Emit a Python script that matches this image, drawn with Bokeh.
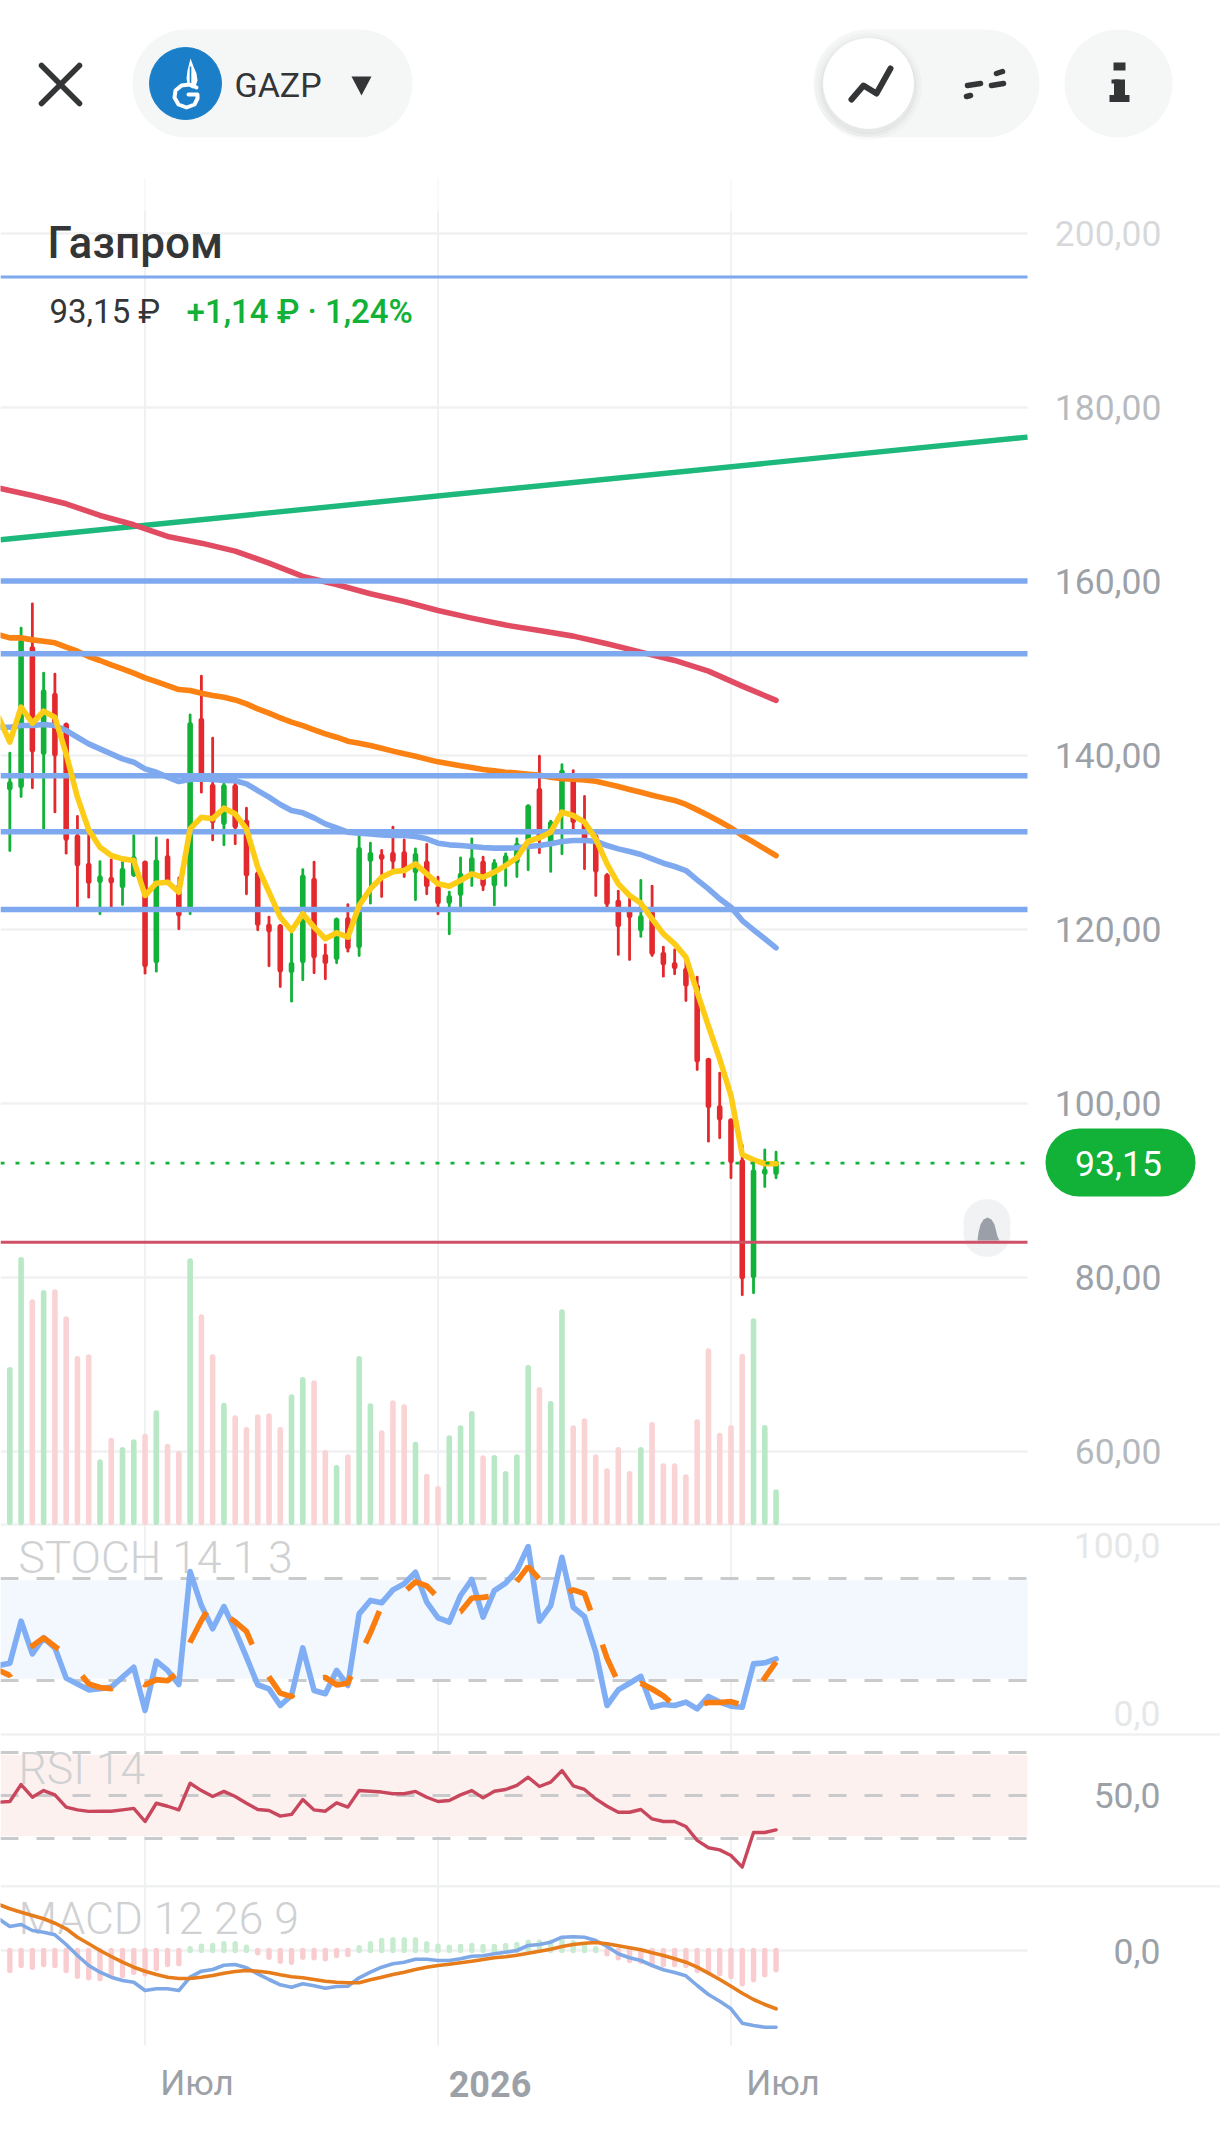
from bokeh.plotting import figure
from bokeh.models import Range1d
from bokeh.embed import file_html
from bokeh.resources import INLINE
from bokeh.core.properties import value

# ---------- data ----------
candle_idx = list(range(69))
opens = [136.28,136.55,152.26,140.38,146.89,143.44,130.61,127.35,125.67,125.75,125.06,126.40,127.62,116.44,128.24,124.86,122.37,144.02,136.43,132.33,136.36,132.33,126.32,120.38,120.27,115.29,116.44,125.63,116.90,116.82,121.11,118.16,128.08,128.39,128.62,128.70,126.78,127.62,124.67,123.26,124.18,126.78,127.62,125.25,127.55,127.93,130.42,135.97,130.23,133.49,137.12,132.14,130.61,126.09,123.14,121.99,120.08,121.80,117.13,115.94,115.29,113.37,104.94,99.50,97.97,93.26,80.23,92.11,92.11]
closes = [136.74,153.02,140.65,147.28,140.19,130.53,127.55,125.55,125.90,125.59,126.78,128.12,115.98,127.74,125.63,121.80,143.52,137.89,132.53,136.36,131.95,126.40,120.73,119.96,115.36,115.98,126.01,117.01,116.32,121.03,118.04,129.15,128.62,128.31,128.04,127.16,128.50,125.17,123.22,123.64,126.21,128.01,125.25,127.47,128.24,129.65,134.06,130.80,132.14,138.08,132.53,130.61,126.86,123.14,120.57,121.61,121.34,117.39,116.17,115.75,113.75,105.02,99.77,98.35,93.45,80.12,92.11,92.22,93.15]
highs = [140.27,154.63,157.43,149.46,149.34,143.64,132.99,131.57,127.81,128.01,127.74,130.80,127.74,130.53,130.30,125.94,144.67,149.11,141.99,136.74,137.28,133.94,126.59,121.42,120.46,119.88,126.89,127.74,118.24,121.23,122.87,130.80,129.92,129.08,131.76,130.30,129.27,129.77,126.01,124.29,128.24,130.42,128.31,127.93,128.70,130.42,134.25,139.92,132.45,138.96,138.27,135.29,130.80,126.32,124.40,123.79,125.63,124.98,117.97,117.66,116.82,114.52,105.02,103.49,98.05,95.17,93.26,94.67,94.41]
lows = [129.08,135.28,136.28,131.57,133.52,128.77,122.64,123.72,121.80,122.64,122.87,126.20,114.98,115.21,125.63,120.08,121.80,135.78,130.30,129.73,129.85,124.10,119.96,115.82,113.45,111.76,114.21,115.02,114.33,116.17,117.51,117.01,123.03,123.79,126.86,126.09,123.41,124.10,121.80,119.50,122.64,125.06,124.56,122.83,125.06,126.09,126.86,128.81,126.67,128.70,131.57,126.97,123.91,122.68,117.13,116.55,119.20,117.01,114.64,114.90,111.84,103.91,95.67,96.05,91.46,78.01,78.24,90.46,91.46]
volumes = [457,787,660,688,690,609,490,495,180,245,217,240,257,327,227,205,783,615,495,350,312,277,315,318,277,375,427,417,208,163,195,490,348,267,357,345,233,137,100,252,282,325,192,193,145,195,463,397,355,630,282,303,195,153,217,145,217,292,168,168,135,300,513,260,283,497,603,283,90]

line_idx = list(range(-1, 69))
ma_yellow = [144.40,141.53,145.55,143.71,145.09,144.40,140.19,135.21,131.45,129.46,128.50,128.12,127.93,123.91,125.32,125.44,124.29,131.57,132.91,132.72,133.94,133.29,131.57,127.16,124.29,121.42,119.88,121.80,120.27,118.93,119.62,119.12,122.76,124.67,126.01,126.65,126.78,127.55,126.40,125.25,124.98,125.63,126.40,126.01,126.59,127.35,128.24,130.15,130.54,131.19,133.49,133.10,132.34,130.42,127.55,125.25,123.91,123.03,121.23,119.50,118.35,116.82,112.80,108.90,105.10,100.90,94.14,93.52,93.07,93.07]
ma_blue = [143.25,143.25,143.44,143.44,143.56,143.44,142.87,142.10,141.34,140.76,140.19,139.61,139.23,138.46,138.08,137.51,137.01,137.24,137.31,137.24,137.12,137.09,136.74,135.97,135.21,134.37,133.68,133.41,132.83,132.14,131.68,131.19,131.07,130.99,130.88,130.80,130.80,130.69,130.42,129.92,129.73,129.65,129.54,129.42,129.35,129.35,129.39,129.54,129.65,129.85,130.11,130.23,130.23,130.15,129.65,129.27,128.96,128.62,128.12,127.62,127.24,126.78,125.71,124.67,123.52,122.57,121.03,119.96,118.93,117.89]
ma_orange = [153.87,153.52,153.52,153.29,153.14,152.95,152.45,151.99,151.38,150.92,150.42,149.96,149.46,148.92,148.50,148.04,147.58,147.47,147.16,146.89,146.70,146.39,145.94,145.36,144.86,144.33,143.83,143.44,142.95,142.49,142.10,141.64,141.41,141.15,140.84,140.50,140.19,139.92,139.58,139.27,139.04,138.81,138.62,138.39,138.23,138.08,137.97,137.85,137.74,137.51,137.32,137.28,137.20,137.05,136.74,136.43,136.09,135.78,135.44,135.13,134.83,134.37,133.75,133.10,132.41,131.68,130.80,130.04,129.27,128.50]
red_idx = [-1,2,5,8,11,14,17,20,23,26,29,32,35,38,41,44,47,50,53,56,59,62,65,68]
ma_red = [170.73,169.89,168.93,167.59,166.52,165.18,164.41,163.49,162.11,160.58,159.66,158.59,157.71,156.67,155.79,154.99,154.37,153.72,152.84,151.88,150.93,149.70,147.98,146.33]
trend_green = [164.8, 176.6]
level_thin = 195.0
levels = [160.06, 151.7, 137.67, 131.23, 122.3]
alert_level = 84.05
last_price = 93.15

stoch_k = [28.8,30.2,54.9,35.7,45.1,39.2,21.4,18.0,14.5,15.1,16.1,22.0,27.8,2.4,31.4,25.9,17.6,84.1,64.1,50.4,63.5,49.4,33.7,17.5,15.1,5.3,11.2,39.2,14.1,12.2,25.9,17.1,59.2,67.1,65.7,73.3,76.9,83.7,66.1,56.9,54.3,70.0,79.4,57.3,72.9,77.3,84.7,98.8,54.9,64.1,92.5,63.1,57.6,36.7,5.3,14.5,18.4,22.4,4.3,5.9,5.3,7.3,3.3,10.6,7.3,4.9,4.3,29.8,30.4,32.7]
stoch_d = [26.0,23.0,38.0,40.3,45.2,40.0,35.2,26.2,18.0,15.9,15.2,17.7,22.0,17.4,20.5,19.9,25.0,42.5,55.3,66.2,59.3,54.5,48.9,33.5,22.1,12.6,10.5,18.6,21.5,21.8,17.4,18.4,34.1,48.0,64.0,68.7,72.0,78.0,75.6,68.9,59.0,60.4,68.5,68.9,69.9,69.2,78.3,87.0,79.5,72.6,70.5,73.3,71.1,52.5,33.2,18.8,12.7,18.4,15.0,10.9,5.2,6.2,5.3,7.1,7.1,7.6,5.5,13.0,21.5,31.0]
rsi = [46.9,47.2,55.1,49.2,52.3,50.3,44.6,43.3,42.6,42.7,42.7,43.3,44.0,37.9,46.4,45.0,43.3,55.7,52.3,49.5,51.9,49.5,46.4,43.5,43.0,40.4,41.2,48.1,43.3,42.7,46.6,44.6,52.3,52.0,51.6,50.8,50.8,51.9,49.2,47.2,47.7,50.3,52.3,48.9,52.0,52.8,54.7,58.5,54.2,56.2,61.6,54.5,52.8,48.4,45.0,42.2,42.2,43.5,39.1,37.9,37.9,35.6,29.1,25.7,24.7,22.1,16.7,32.8,32.8,34.0]
macd = [3.17,2.40,2.60,2.00,1.83,1.57,0.60,-0.50,-1.50,-2.17,-2.67,-3.00,-3.17,-4.00,-3.83,-3.83,-4.00,-2.67,-2.07,-1.90,-1.47,-1.40,-1.73,-2.33,-2.90,-3.43,-3.67,-3.33,-3.53,-3.77,-3.60,-3.57,-2.73,-2.17,-1.67,-1.33,-1.17,-0.87,-0.87,-1.00,-1.00,-0.83,-0.57,-0.53,-0.33,-0.17,0.00,0.50,0.60,0.83,1.33,1.37,1.33,1.00,0.40,-0.33,-0.73,-1.00,-1.50,-1.93,-2.20,-2.53,-3.50,-4.40,-5.07,-5.83,-7.27,-7.50,-7.67,-7.67]
signal = [4.60,4.17,3.83,3.50,3.17,2.73,2.17,1.33,0.67,0.00,-0.60,-1.17,-1.67,-2.07,-2.40,-2.67,-2.80,-2.80,-2.67,-2.50,-2.27,-2.10,-2.00,-2.07,-2.20,-2.43,-2.63,-2.73,-2.90,-3.07,-3.17,-3.23,-3.23,-2.93,-2.67,-2.40,-2.17,-1.90,-1.67,-1.50,-1.37,-1.23,-1.07,-0.90,-0.73,-0.63,-0.47,-0.27,-0.07,0.13,0.40,0.60,0.73,0.80,0.67,0.47,0.27,0.07,-0.23,-0.50,-0.83,-1.17,-1.67,-2.27,-2.90,-3.57,-4.27,-4.90,-5.40,-5.83]
hist = [-2.0,-1.5,-1.67,-1.4,-1.5,-2.0,-2.57,-2.73,-2.83,-2.5,-2.5,-2.17,-2.33,-1.83,-1.4,-1.33,0.17,0.43,0.5,0.67,0.67,0.33,-0.23,-0.67,-1.07,-1.17,-0.67,-0.73,-0.83,-0.5,-0.4,0.27,0.67,1.0,1.07,1.07,1.07,0.67,0.43,0.33,0.4,0.5,0.4,0.4,0.5,0.6,0.83,0.83,0.83,1.0,0.77,0.5,0.17,-0.33,-0.73,-1.0,-1.1,-1.27,-1.4,-1.4,-1.5,-2.0,-2.17,-2.33,-2.6,-3.33,-2.93,-2.43,-1.93]

price_ticks = [200, 180, 160, 140, 120, 100, 80, 60]
price_labels = ["200,00", "180,00", "160,00", "140,00", "120,00", "100,00", "80,00", "60,00"]
price_alpha = [0.42, 0.72, 1, 1, 1, 1, 1, 0.75]
month_ticks = [12, 38, 64]
month_labels = ["Июл", "2026", "Июл"]

# ---------- scales: page is 1220 x 2139 px ----------
W, H = 1220, 2139
CX0, CDX = 9.33, 11.268     # pixel position of candle 0, spacing
RIGHT = (1027 - CX0) / CDX  # right edge of the plot area, in candle units
LEFT = (0 - CX0) / CDX

def span(y0_px, v0, px_per_unit):
    return Range1d(v0 - (H - y0_px) / px_per_unit, v0 + y0_px / px_per_unit)

p = figure(width=W, height=H, output_backend="svg", toolbar_location=None,
           x_range=Range1d(LEFT, (W - CX0) / CDX), y_range=span(1103, 100, 8.7),
           min_border=0, min_border_left=0, min_border_right=0, min_border_top=0, min_border_bottom=0,
           outline_line_color=None, background_fill_color="white", border_fill_color="white")
p.axis.visible = False
p.grid.visible = False
p.styles = {"position": "absolute", "left": "0px", "top": "0px"}
p.extra_x_ranges = {"page": Range1d(0, W)}
p.extra_y_ranges = {"page": Range1d(H, 0), "vol": span(1521.67, 0, 1 / 3),
                    "stoch": span(1714, 0, 1.7), "rsi": span(1795, 50, 2.15), "macd": span(1950, 0, 10)}
PG = dict(x_range_name="page", y_range_name="page")

GRID = "#f0f1f2"
GREY = "#9ca1a7"
RED, GREEN = "#e3292d", "#12b138"
BLUE = "#7fa9ee"

def text(x, y, s, size, color, font="Roboto", align="left", alpha=1.0, style="normal"):
    p.text(x=[x], y=[y], text=[s], text_font=value(font), text_font_size=size, text_color=color,
           text_align=align, text_baseline="middle", text_alpha=alpha, text_font_style=style, **PG)

def pill(x0, x1, y, thick, color, alpha=1.0):
    p.segment(x0=[x0], y0=[y], x1=[x1], y1=[y], line_width=thick, line_color=color, line_cap="round",
              line_alpha=alpha, **PG)

# ---------- grid ----------
for pr in price_ticks:
    p.line([LEFT, RIGHT], [pr, pr], line_color=GRID, line_width=2.4)
for m in month_ticks:
    p.segment(x0=[m], x1=[m], y0=[210], y1=[2045], line_color=GRID, line_width=2, y_range_name="page")
    p.segment(x0=[m], x1=[m], y0=[178], y1=[210], line_color="#f8f9f9", line_width=2, y_range_name="page")
for y in (1524, 1734, 1885.7):
    p.segment(x0=[0], x1=[W], y0=[y], y1=[y], line_color=GRID, line_width=2.5, **PG)

# ---------- volume ----------
vc = ["#b8e8c5" if c >= o else "#fad3d5" for o, c in zip(opens, closes)]
p.segment(x0=candle_idx, x1=candle_idx, y0=[0] * 69, y1=volumes, line_color=vc, line_width=5.6, line_cap="round",
          y_range_name="vol")

# ---------- candles ----------
cc = [GREEN if c >= o else RED for o, c in zip(opens, closes)]
p.segment(x0=candle_idx, x1=candle_idx, y0=lows, y1=highs, line_color=cc, line_width=2.8, line_cap="round")
p.segment(x0=candle_idx, x1=candle_idx, y0=opens, y1=closes, line_color=cc, line_width=5.6, line_cap="round")

# ---------- moving averages, trend line, levels ----------
LW = dict(line_cap="round", line_join="round")
p.line([LEFT, RIGHT], trend_green, line_color="#1cb87c", line_width=5.4)
p.line(red_idx, ma_red, line_color="#e14c62", line_width=5.6, **LW)
p.line(line_idx, ma_orange, line_color="#fb8112", line_width=5.6, **LW)
p.line(line_idx, ma_blue, line_color=BLUE, line_width=5.6, **LW)
p.line([LEFT, RIGHT], [level_thin, level_thin], line_color=BLUE, line_width=3.2)
for lv in levels:
    p.line([LEFT, RIGHT], [lv, lv], line_color=BLUE, line_width=5.6)
p.line(line_idx, ma_yellow, line_color="#fdcc17", line_width=5.6, **LW)
p.line([LEFT, RIGHT], [last_price, last_price], line_color=GREEN, line_width=2.8, line_dash="4 11")

# alert
pill(986.5, 986.5, 1222, 47, "#f1f2f4")
pill(986.5, 986.5, 1233, 47, "#f1f2f4")
p.patch([977, 978, 980, 983, 987, 991, 994, 996, 997, 999, 975],
        [1240, 1232, 1224, 1219, 1217, 1219, 1224, 1232, 1236, 1240, 1240], fill_color="#9ba0a8", line_color=None, **PG)
p.line([LEFT, RIGHT], [alert_level, alert_level], line_color="#cf5167", line_width=3.2)

# ---------- stochastic ----------
SK = dict(y_range_name="stoch")
p.quad(left=[LEFT], right=[RIGHT], bottom=[21], top=[79], fill_color="#f3f7fe", line_color=None, **SK)
for lv in (80, 20):
    p.line([LEFT, RIGHT], [lv, lv], line_color="#c9cacc", line_width=3, line_dash="18 18", **SK)
text(18, 1557, "STOCH 14 1 3", "44.5px", "#cfd1d3", font="Roboto Light")
p.line(line_idx, stoch_k, line_color="#7faef5", line_width=5.6, **SK, **LW)
p.line(line_idx, stoch_d, line_color="#fa7d10", line_width=5.6, line_dash="35 36", line_dash_offset=21, **SK)

# ---------- RSI ----------
RK = dict(y_range_name="rsi")
p.quad(left=[LEFT], right=[RIGHT], bottom=[31], top=[69], fill_color="#fdf1f0", line_color=None, **RK)
for lv in (70, 50, 30):
    p.line([LEFT, RIGHT], [lv, lv], line_color="#c9cacc", line_width=3, line_dash="18 18", **RK)
text(18, 1768, "RSI 14", "44.5px", "#cfd1d3", font="Roboto Light")
p.line(line_idx, rsi, line_color="#c9475d", line_width=3.4, **RK, **LW)

# ---------- MACD ----------
MK = dict(y_range_name="macd")
p.line([LEFT, RIGHT], [0, 0], line_color=GRID, line_width=2.5, **MK)
text(18, 1918, "MACD 12 26 9", "44.5px", "#cfd1d3", font="Roboto Light")
hc = ["#c7ecd0" if h >= 0 else "#f9cdd0" for h in hist]
p.segment(x0=candle_idx, x1=candle_idx, y0=[0] * 69, y1=hist, line_color=hc, line_width=5.4, line_cap="round", **MK)
p.line(line_idx, macd, line_color="#7ea8e6", line_width=3.6, **MK, **LW)
p.line(line_idx, signal, line_color="#e67c1c", line_width=3.6, **MK, **LW)

# ---------- axis labels ----------
for pr, lab, a in zip(price_ticks, price_labels, price_alpha):
    p.text(x=[1161], y=[pr], text=[lab], text_font=value("Roboto"), text_font_size="35.5px", text_color=GREY,
           text_alpha=a, text_align="right", text_baseline="middle", x_range_name="page")
text(1160, 1545, "100,0", "35.5px", "#e6e7e9", align="right")
text(1160, 1713, "0,0", "35.5px", "#e6e7e9", align="right")
text(1160, 1795, "50,0", "35.5px", GREY, align="right")
text(1160, 1951, "0,0", "35.5px", GREY, align="right")
for m, lab in zip(month_ticks, month_labels):
    p.text(x=[m], y=[2083], text=[lab], text_font=value("Roboto"), text_font_size="36px" if lab == "2026" else "35px",
           text_color=GREY, text_align="center", text_baseline="middle", x_offset=52,
           text_font_style="bold" if lab == "2026" else "normal", y_range_name="page")

# price bubble
pill(1079, 1161, 1162, 68, "#12b138")
text(1118, 1163, "93,15", "35.5px", "#ffffff", align="center")

# ---------- header ----------
text(47, 242, "Газпром", "44px", "#333536", font="Roboto Medium")
text(49, 311, "93,15 ₽", "33px", "#333536")
text(186, 311, "+1,14 ₽ · 1,24%", "33px", "#12b138", font="Roboto Medium")

for a, b in (((41, 65), (79, 103)), ((79, 65), (41, 103))):
    p.line([a[0], b[0]], [a[1], b[1]], line_color="#333536", line_width=5.5, line_cap="round", **PG)

pill(186, 358, 83, 108, "#f5f7f7")
p.scatter([185], [83], size=72, color="#1a7fc8", **PG)
p.patch([190, 193, 196, 197, 195, 192, 189, 187, 186, 187, 190], [58, 66, 73, 80, 86, 88, 86, 83, 78, 70, 58],
        fill_color="white", line_color=None, **PG)
p.line([190, 190], [66, 84], line_color="#1a7fc8", line_width=1.6, **PG)
p.line([196, 189, 181, 175, 174, 178, 186, 194, 197, 197, 188], [87, 84, 85, 90, 97, 104, 107, 104, 98, 94, 94],
       line_color="white", line_width=4, line_cap="round", line_join="round", **PG)
text(234, 84, "GAZP", "34px", "#333536")
p.patch([351, 371, 361], [76, 76, 95], fill_color="#333536", line_color=None, **PG)

pill(867, 985, 83, 108, "#f5f7f7")
for sz, a in ((106, 0.03), (100, 0.04), (95, 0.05)):
    p.scatter([868], [86], size=sz, color="#777777", alpha=a, **PG)
p.scatter([868], [83], size=90, color="white", **PG)
p.line([851, 863, 876, 890], [99, 85, 93, 68], line_color="#333536", line_width=6, line_cap="round", line_join="round", **PG)
for x0, y0, x1, y1 in ((996, 73, 1002, 71), (967, 85, 980, 83), (991, 85, 1003, 83), (966, 96, 970, 95)):
    p.line([x0, x1], [y0, y1], line_color="#333536", line_width=5.5, line_cap="round", **PG)

pill(1118, 1118, 83, 108, "#f5f7f7")
p.line([1113, 1125], [66, 66], line_color="#333536", line_width=8, **PG)
p.line([1119, 1119], [79, 100], line_color="#333536", line_width=11, **PG)
p.line([1111, 1119], [81, 81], line_color="#333536", line_width=4, **PG)
p.line([1109, 1129], [98, 98], line_color="#333536", line_width=7, **PG)

n = 69
assert all(len(a) == n for a in (opens, closes, highs, lows, volumes, hist))
assert all(len(a) == 70 for a in (ma_yellow, ma_blue, ma_orange, stoch_k, stoch_d, rsi, macd, signal))

open("out.html", "w").write(file_html(p, INLINE))
